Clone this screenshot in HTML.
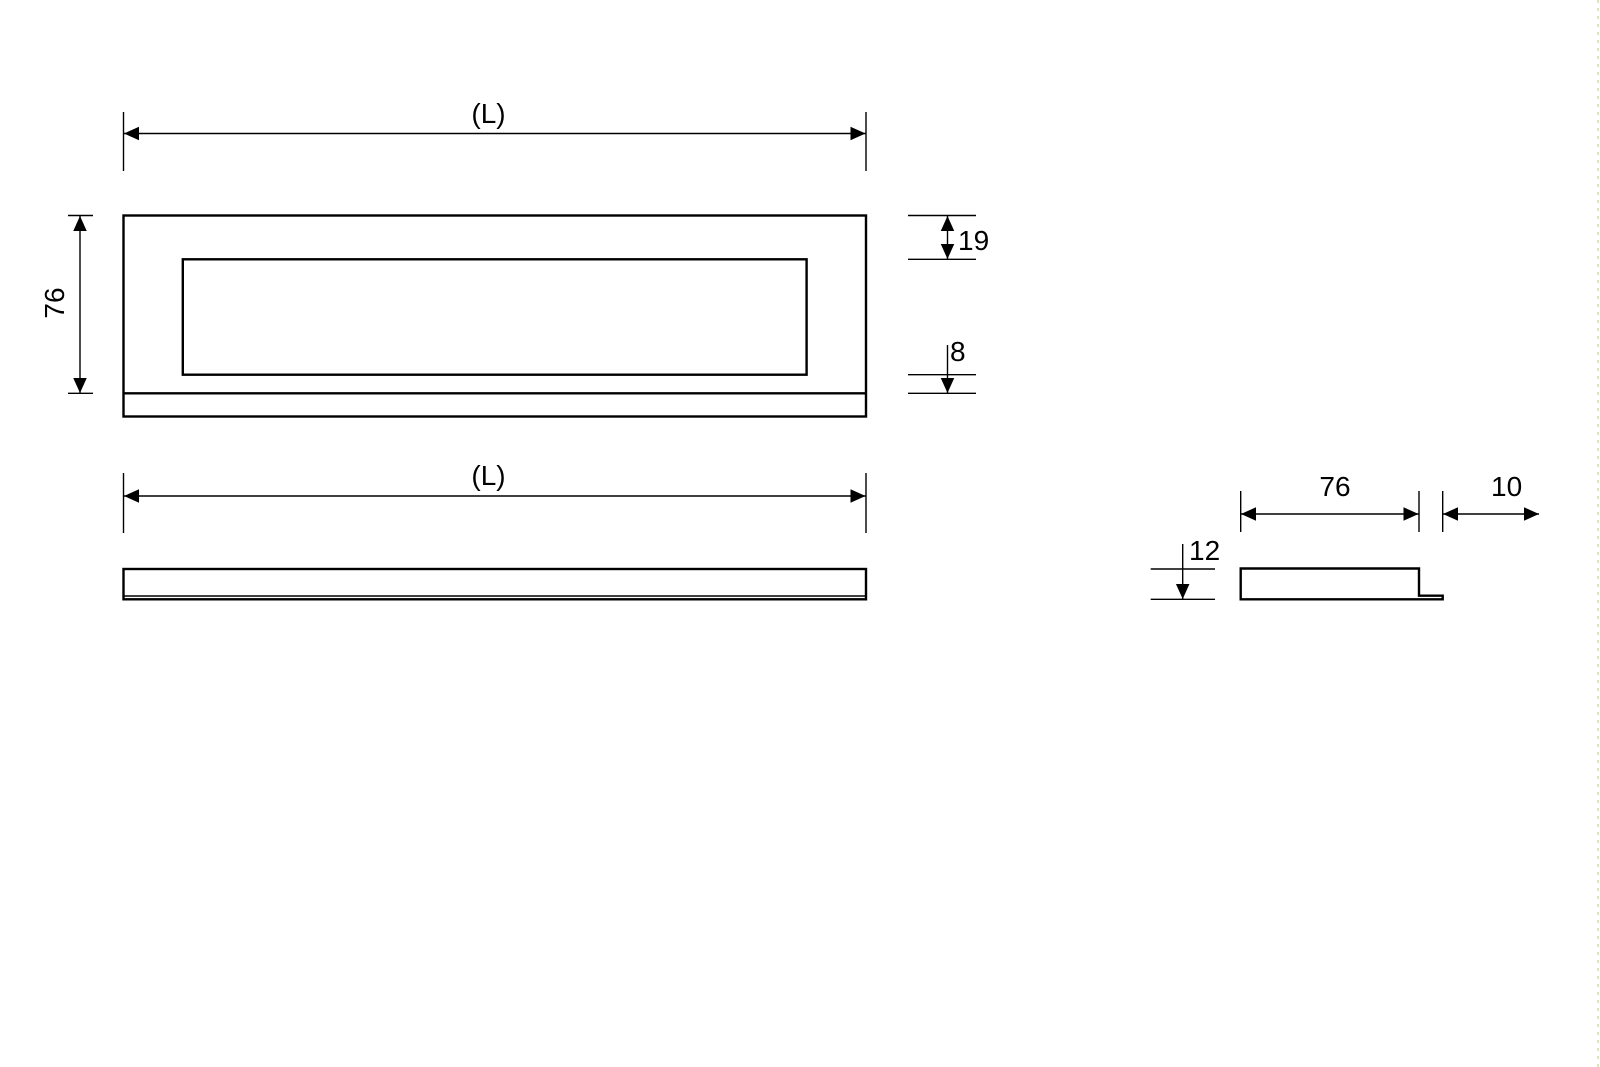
<!DOCTYPE html>
<html><head><meta charset="utf-8"><style>
html,body{margin:0;padding:0;background:#fff;}
svg{display:block;}
text{font-family:"Liberation Sans",Arial,sans-serif;font-size:28px;fill:#000;}
</style></head><body>
<svg width="1600" height="1067" viewBox="0 0 1600 1067" xmlns="http://www.w3.org/2000/svg">
<defs>
<marker id="a" viewBox="0 0 10 10" refX="10" refY="5" markerWidth="15" markerHeight="15" markerUnits="userSpaceOnUse" orient="auto-start-reverse"><path d="M0,0.5 L10,5 L0,9.5 Z" fill="#000"/></marker>
</defs>
<g stroke="#000" fill="none">
<line x1="123.5" y1="112" x2="123.5" y2="171" stroke-width="1.4"/>
<line x1="866" y1="112" x2="866" y2="171" stroke-width="1.4"/>
<line x1="124" y1="133.5" x2="865.5" y2="133.5" stroke-width="1.4" marker-start="url(#a)" marker-end="url(#a)"/>
<rect x="123.5" y="215.5" width="742.5" height="201" stroke-width="2.4"/>
<line x1="123.5" y1="393.3" x2="866" y2="393.3" stroke-width="2.4"/>
<rect x="182.8" y="259.3" width="623.8" height="115.4" stroke-width="2.4"/>
<line x1="68" y1="215.5" x2="93" y2="215.5" stroke-width="1.4"/>
<line x1="68" y1="393.3" x2="93" y2="393.3" stroke-width="1.4"/>
<line x1="80" y1="216" x2="80" y2="393" stroke-width="1.4" marker-start="url(#a)" marker-end="url(#a)"/>
<line x1="908" y1="215.5" x2="976" y2="215.5" stroke-width="1.4"/>
<line x1="908" y1="259.3" x2="976" y2="259.3" stroke-width="1.4"/>
<line x1="908" y1="374.7" x2="976" y2="374.7" stroke-width="1.4"/>
<line x1="908" y1="393.3" x2="976" y2="393.3" stroke-width="1.4"/>
<line x1="947.5" y1="216" x2="947.5" y2="259" stroke-width="1.4" marker-start="url(#a)" marker-end="url(#a)"/>
<line x1="947.5" y1="345" x2="947.5" y2="393" stroke-width="1.4" marker-end="url(#a)"/>
<line x1="123.5" y1="473" x2="123.5" y2="533" stroke-width="1.4"/>
<line x1="866" y1="473" x2="866" y2="533" stroke-width="1.4"/>
<line x1="124" y1="496" x2="865.5" y2="496" stroke-width="1.4" marker-start="url(#a)" marker-end="url(#a)"/>
<rect x="123.5" y="569" width="742.5" height="30.3" stroke-width="2.4"/>
<line x1="123.5" y1="596" x2="866" y2="596" stroke-width="1.6"/>
<path d="M1240.7,568.5 L1419,568.5 L1419,595.7 L1442.7,595.7 L1442.7,599.3 L1240.7,599.3 Z" stroke-width="2.4"/>
<line x1="1240.7" y1="491" x2="1240.7" y2="532" stroke-width="1.4"/>
<line x1="1419" y1="491" x2="1419" y2="532" stroke-width="1.4"/>
<line x1="1442.7" y1="491" x2="1442.7" y2="532" stroke-width="1.4"/>
<line x1="1241" y1="514" x2="1418.5" y2="514" stroke-width="1.4" marker-start="url(#a)" marker-end="url(#a)"/>
<line x1="1443" y1="514" x2="1539" y2="514" stroke-width="1.4" marker-start="url(#a)" marker-end="url(#a)"/>
<line x1="1150.7" y1="569" x2="1215" y2="569" stroke-width="1.4"/>
<line x1="1150.7" y1="599.3" x2="1215" y2="599.3" stroke-width="1.4"/>
<line x1="1182.7" y1="544" x2="1182.7" y2="599" stroke-width="1.4" marker-end="url(#a)"/>
</g>
<text x="488.5" y="123" text-anchor="middle">(L)</text>
<text x="488.5" y="485" text-anchor="middle">(L)</text>
<text x="64" y="303" text-anchor="middle" transform="rotate(-90 64 303)">76</text>
<text x="958" y="250">19</text>
<text x="950" y="361">8</text>
<text x="1335" y="496" text-anchor="middle">76</text>
<text x="1491" y="496">10</text>
<text x="1189" y="560">12</text>
<line x1="1598" y1="0" x2="1598" y2="1067" stroke="#d8d8a0" stroke-width="1.5" stroke-dasharray="3,5"/>
</svg>
</body></html>
